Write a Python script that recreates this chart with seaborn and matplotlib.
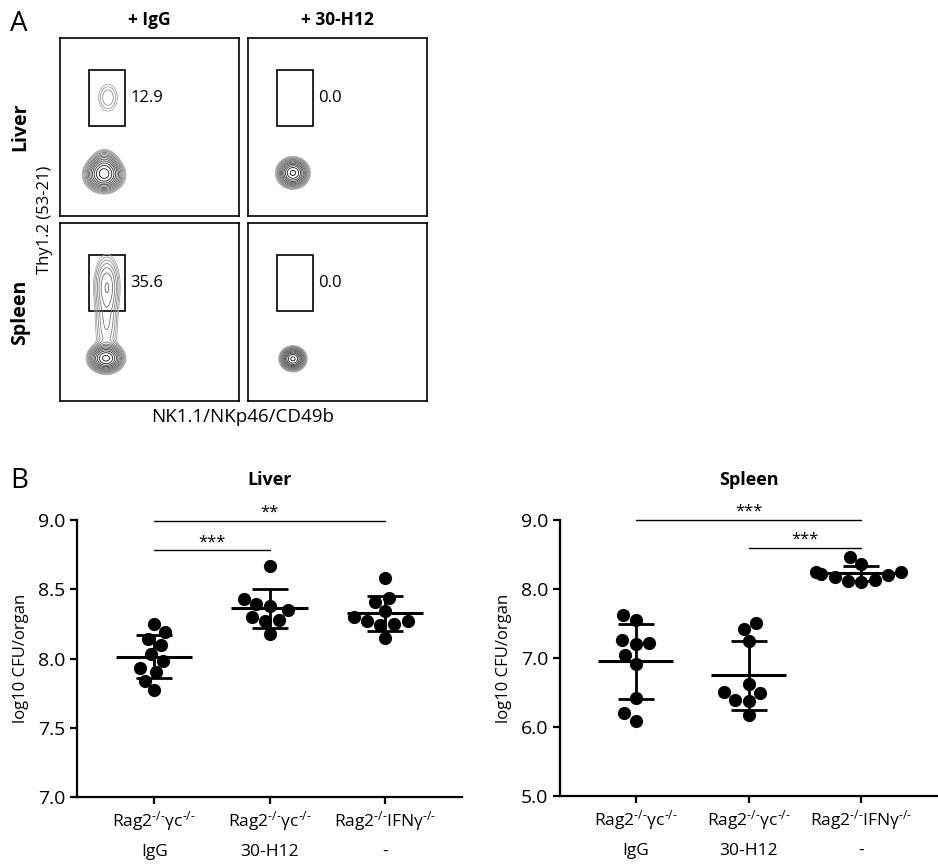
import numpy as np
import pandas as pd
import matplotlib
matplotlib.use('Agg')
import matplotlib.pyplot as plt
import seaborn as sns

# ---------------- Panel A: flow plots ----------------
row_names = ['Liver', 'Spleen']
col_names = ['+ IgG', '+ 30-H12']
gate_pct = [['12.9', '0.0'], ['35.6', '0.0']]
gate_box = (0.162, 0.505, 0.201, 0.315)  # x0, y0, w, h (axis fraction)

# cell populations: (cx, cy, sx, sy, weight) in axis fraction units
pops_liver_igg = [(0.246, 0.232, 0.046, 0.041, 1.0),
                  (0.248, 0.290, 0.036, 0.040, 0.25),
                  (0.268, 0.665, 0.040, 0.058, 0.07)]
pops_liver_h12 = [(0.251, 0.242, 0.037, 0.035, 1.0)]
pops_spleen_igg = [(0.257, 0.240, 0.042, 0.034, 1.0),
                   (0.260, 0.420, 0.040, 0.110, 0.09),
                   (0.262, 0.650, 0.040, 0.095, 0.16)]
pops_spleen_h12 = [(0.251, 0.237, 0.030, 0.028, 1.0)]
flow_pops = [[pops_liver_igg, pops_liver_h12], [pops_spleen_igg, pops_spleen_h12]]

# ---------------- Panel B: CFU ----------------
groups = ['g1', 'g2', 'g3']
group_labels = [r'Rag2$^{\text{-/-}}$γc$^{\text{-/-}}$' + '\nIgG',
                r'Rag2$^{\text{-/-}}$γc$^{\text{-/-}}$' + '\n30-H12',
                r'Rag2$^{\text{-/-}}$IFNγ$^{\text{-/-}}$' + '\n-']

liver_igg = [8.25, 8.19, 8.14, 8.10, 8.03, 7.98, 7.93, 7.90, 7.84, 7.77]
liver_h12 = [8.67, 8.43, 8.38, 8.39, 8.35, 8.30, 8.28, 8.27, 8.18]
liver_ifng = [8.58, 8.44, 8.41, 8.34, 8.30, 8.27, 8.25, 8.27, 8.24, 8.15]
spleen_igg = [7.62, 7.55, 7.22, 7.21, 7.26, 7.04, 6.91, 6.42, 6.20, 6.09]
spleen_h12 = [7.51, 7.42, 7.24, 6.62, 6.51, 6.49, 6.39, 6.38, 6.18]
spleen_ifng = [8.46, 8.36, 8.25, 8.24, 8.22, 8.20, 8.18, 8.13, 8.11, 8.10]

liver_ticks = [7.0, 7.5, 8.0, 8.5, 9.0]
spleen_ticks = [5.0, 6.0, 7.0, 8.0, 9.0]

# significance bars: (group i, group j, height, label)
liver_sig = [(0, 1, 8.78, '***'), (0, 2, 8.995, '**')]
spleen_sig = [(0, 2, 9.0, '***'), (1, 2, 8.6, '***')]

sns.set_style('ticks')
plt.rcParams['font.family'] = ['Open Sans', 'DejaVu Sans']
plt.rcParams['mathtext.fontset'] = 'custom'
plt.rcParams['mathtext.rm'] = 'Open Sans'
plt.rcParams['mathtext.it'] = 'Open Sans:italic'
plt.rcParams['mathtext.bf'] = 'Open Sans:bold'
for k in ['text.color', 'axes.labelcolor', 'xtick.color', 'ytick.color']:
    plt.rcParams[k] = 'black'

W, H = 938, 865
fig = plt.figure(figsize=(W / 100, H / 100), dpi=100)


def fbox(x0, y0, x1, y1):
    # pixel box -> figure fraction rect
    return [x0 / W, 1 - y1 / H, (x1 - x0) / W, (y1 - y0) / H]


# ---- Panel A ----
gx, gy = np.meshgrid(np.linspace(0, 1, 300), np.linspace(0, 1, 300))
levels = np.geomspace(0.03, 0.92, 13)
shades = [plt.cm.Greys(v) for v in np.linspace(0.45, 0.95, len(levels))]
col_x = [(60, 239), (248, 427)]
row_y = [(38, 216), (223, 401)]
for r in range(2):
    for c in range(2):
        ax = fig.add_axes(fbox(col_x[c][0], row_y[r][0], col_x[c][1], row_y[r][1]))
        dens = np.zeros_like(gx)
        for cx, cy, sx, sy, w in flow_pops[r][c]:
            dens += w * np.exp(-((gx - cx) ** 2 / (2 * sx ** 2) + (gy - cy) ** 2 / (2 * sy ** 2)))
        ax.contour(gx, gy, dens, levels=levels, colors=shades, linewidths=0.6)
        x0, y0, bw, bh = gate_box
        ax.add_patch(plt.Rectangle((x0, y0), bw, bh, fill=False, ec='black', lw=1.2))
        ax.text(x0 + bw + 0.03, y0 + bh / 2, gate_pct[r][c], fontsize=12, va='center', ha='left')
        ax.set_xlim(0, 1)
        ax.set_ylim(0, 1)
        ax.set_xticks([])
        ax.set_yticks([])
        for s in ax.spines.values():
            s.set_linewidth(1.2)
            s.set_color('black')

for c, name in enumerate(col_names):
    fig.text((col_x[c][0] + col_x[c][1]) / 2 / W, 1 - 20 / H, name, fontsize=12.5,
             fontweight='bold', ha='center', va='center')
for r, name in enumerate(row_names):
    fig.text(20 / W, 1 - ((row_y[r][0] + row_y[r][1]) / 2) / H, name, fontsize=14,
             fontweight='bold', rotation=90, ha='center', va='center')
fig.text(45 / W, 1 - 220 / H, 'Thy1.2 (53-21)', fontsize=12, rotation=90, ha='center', va='center')
fig.text(243 / W, 1 - 417 / H, 'NK1.1/NKp46/CD49b', fontsize=13.5, ha='center', va='center')
fig.text(10 / W, 1 - 24 / H, 'A', fontsize=20, ha='left', va='center')
fig.text(10 / W, 1 - 481 / H, 'B', fontsize=20, ha='left', va='center')

# ---- Panel B ----
def cfu_panel(rect, title, data, ticks, sig):
    ax = fig.add_axes(rect)
    df = pd.DataFrame({'group': np.repeat(groups, [len(d) for d in data]),
                       'cfu': np.concatenate(data)})
    sns.swarmplot(data=df, x='group', y='cfu', order=groups, color='black',
                  size=9.5, ax=ax, zorder=3)
    stats = df.groupby('group', sort=False)['cfu'].agg(['mean', 'std']).reindex(groups)
    pos = np.arange(len(groups))
    ax.errorbar(pos, stats['mean'], yerr=stats['std'], fmt='none', ecolor='black',
                elinewidth=2, capsize=13, capthick=2, zorder=4)
    ax.hlines(stats['mean'], pos - 0.33, pos + 0.33, color='black', lw=2.2, zorder=4)
    for i, j, h, lab in sig:
        ax.plot([i, j], [h, h], color='black', lw=1, clip_on=False)
        ax.text((i + j) / 2, h, lab, ha='center', va='bottom', fontsize=12)
    ax.set_xlim(-0.67, 2.67)
    ax.set_ylim(ticks[0], ticks[-1])
    ax.set_yticks(ticks)
    ax.set_yticklabels([f'{t:.1f}' for t in ticks], fontsize=14)
    ax.set_xticks(pos)
    ax.set_xticklabels(group_labels, fontsize=12.5)
    for lbl in ax.get_xticklabels():
        lbl.set_linespacing(1.9)
    ax.set_xlabel('')
    ax.set_ylabel('log10 CFU/organ', fontsize=12, labelpad=6)
    ax.set_title(title, fontsize=13, fontweight='bold', pad=25)
    sns.despine(ax=ax)
    for s in ['left', 'bottom']:
        ax.spines[s].set_linewidth(1.6)
        ax.spines[s].set_color('black')
    ax.tick_params(width=1.6, length=5, color='black', labelcolor='black')
    return ax


cfu_panel(fbox(77, 520, 462, 797), 'Liver', [liver_igg, liver_h12, liver_ifng],
          liver_ticks, liver_sig)
cfu_panel(fbox(560, 520, 937, 796), 'Spleen', [spleen_igg, spleen_h12, spleen_ifng],
          spleen_ticks, spleen_sig)

fig.savefig('out.png', dpi=100)
